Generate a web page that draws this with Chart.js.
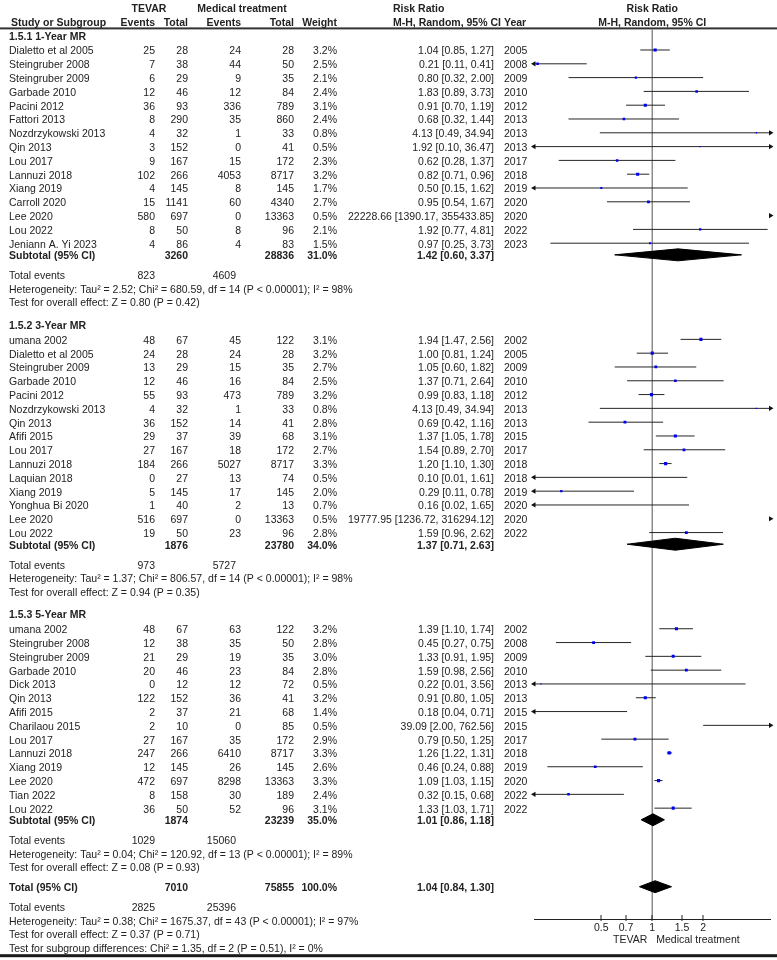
<!DOCTYPE html>
<html>
<head>
<meta charset="utf-8">
<title>Forest plot — TEVAR vs medical treatment</title>
<script src="https://cdn.jsdelivr.net/npm/chart.js@4.4.1/dist/chart.umd.min.js"></script>
<style>
html,body{margin:0;padding:0;background:#fff;}
#wrap{position:relative;width:777px;height:960px;}
</style>
</head>
<body>
<div id="wrap"><canvas id="forest" width="777" height="960"></canvas></div>
<script>
/* ── Data: 1-Year MR ── */
var studies1   = ['Dialetto et al 2005','Steingruber 2008','Steingruber 2009','Garbade 2010','Pacini 2012','Fattori 2013','Nozdrzykowski 2013','Qin 2013','Lou 2017','Lannuzi 2018','Xiang 2019','Carroll 2020','Lee 2020','Lou 2022','Jeniann A. Yi 2023'];
var tevarEv1   = [25,7,6,12,36,8,4,3,9,102,4,15,580,8,4];
var tevarN1    = [28,38,29,46,93,290,32,152,167,266,145,1141,697,50,86];
var medEv1     = [24,44,9,12,336,35,1,0,15,4053,8,60,0,8,4];
var medN1      = [28,50,35,84,789,860,33,41,172,8717,145,4340,13363,96,83];
var weight1    = [3.2,2.5,2.1,2.4,3.1,2.4,0.8,0.5,2.3,3.2,1.7,2.7,0.5,2.1,1.5];
var rr1        = [1.04,0.21,0.80,1.83,0.91,0.68,4.13,1.92,0.62,0.82,0.50,0.95,22228.66,1.92,0.97];
var lo1        = [0.85,0.11,0.32,0.89,0.70,0.32,0.49,0.10,0.28,0.71,0.15,0.54,1390.17,0.77,0.25];
var hi1        = [1.27,0.41,2.00,3.73,1.19,1.44,34.94,36.47,1.37,0.96,1.62,1.67,355433.85,4.81,3.73];
var year1      = [2005,2008,2009,2010,2012,2013,2013,2013,2017,2018,2019,2020,2020,2022,2023];

/* ── Data: 3-Year MR ── */
var studies2   = ['umana 2002','Dialetto et al 2005','Steingruber 2009','Garbade 2010','Pacini 2012','Nozdrzykowski 2013','Qin 2013','Afifi 2015','Lou 2017','Lannuzi 2018','Laquian 2018','Xiang 2019','Yonghua Bi 2020','Lee 2020','Lou 2022'];
var tevarEv2   = [48,24,13,12,55,4,36,29,27,184,0,5,1,516,19];
var tevarN2    = [67,28,29,46,93,32,152,37,167,266,27,145,40,697,50];
var medEv2     = [45,24,15,16,473,1,14,39,18,5027,13,17,2,0,23];
var medN2      = [122,28,35,84,789,33,41,68,172,8717,74,145,13,13363,96];
var weight2    = [3.1,3.2,2.7,2.5,3.2,0.8,2.8,3.1,2.7,3.3,0.5,2.0,0.7,0.5,2.8];
var rr2        = [1.94,1.00,1.05,1.37,0.99,4.13,0.69,1.37,1.54,1.20,0.10,0.29,0.16,19777.95,1.59];
var lo2        = [1.47,0.81,0.60,0.71,0.83,0.49,0.42,1.05,0.89,1.10,0.01,0.11,0.02,1236.72,0.96];
var hi2        = [2.56,1.24,1.82,2.64,1.18,34.94,1.16,1.78,2.70,1.30,1.61,0.78,1.65,316294.12,2.62];
var year2      = [2002,2005,2009,2010,2012,2013,2013,2015,2017,2018,2018,2019,2020,2020,2022];

/* ── Data: 5-Year MR ── */
var studies3   = ['umana 2002','Steingruber 2008','Steingruber 2009','Garbade 2010','Dick 2013','Qin 2013','Afifi 2015','Charilaou 2015','Lou 2017','Lannuzi 2018','Xiang 2019','Lee 2020','Tian 2022','Lou 2022'];
var tevarEv3   = [48,12,21,20,0,122,2,2,27,247,12,472,8,36];
var tevarN3    = [67,38,29,46,12,152,37,10,167,266,145,697,158,50];
var medEv3     = [63,35,19,23,12,36,21,0,35,6410,26,8298,30,52];
var medN3      = [122,50,35,84,72,41,68,85,172,8717,145,13363,189,96];
var weight3    = [3.2,2.8,3.0,2.8,0.5,3.2,1.4,0.5,2.9,3.3,2.6,3.3,2.4,3.1];
var rr3        = [1.39,0.45,1.33,1.59,0.22,0.91,0.18,39.09,0.79,1.26,0.46,1.09,0.32,1.33];
var lo3        = [1.10,0.27,0.91,0.98,0.01,0.80,0.04,2.00,0.50,1.22,0.24,1.03,0.15,1.03];
var hi3        = [1.74,0.75,1.95,2.56,3.56,1.05,0.71,762.56,1.25,1.31,0.88,1.15,0.68,1.71];
var year3      = [2002,2008,2009,2010,2013,2013,2015,2015,2017,2018,2019,2020,2022,2022];

/* ── Subgroup summaries ── */
var groupLabels = ['1.5.1 1-Year MR','1.5.2 3-Year MR','1.5.3 5-Year MR'];
var subTevarN   = [3260,1876,1874];
var subMedN     = [28836,23780,23239];
var subWeight   = [31.0,34.0,35.0];
var subRR       = [1.42,1.37,1.01];
var subLo       = [0.60,0.71,0.86];
var subHi       = [3.37,2.63,1.18];
var subTevarEv  = [823,973,1029];
var subMedEv    = [4609,5727,15060];
var subHet      = ['Heterogeneity: Tau\u00b2 = 2.52; Chi\u00b2 = 680.59, df = 14 (P < 0.00001); I\u00b2 = 98%',
                   'Heterogeneity: Tau\u00b2 = 1.37; Chi\u00b2 = 806.57, df = 14 (P < 0.00001); I\u00b2 = 98%',
                   'Heterogeneity: Tau\u00b2 = 0.04; Chi\u00b2 = 120.92, df = 13 (P < 0.00001); I\u00b2 = 89%'];
var subTest     = ['Test for overall effect: Z = 0.80 (P = 0.42)',
                   'Test for overall effect: Z = 0.94 (P = 0.35)',
                   'Test for overall effect: Z = 0.08 (P = 0.93)'];

/* ── Overall ── */
var totalN      = [7010,75855];
var totalWeight = 100.0;
var totalRR     = [1.04,0.84,1.30];
var totalEv     = [2825,25396];
var totalLines  = ['Heterogeneity: Tau\u00b2 = 0.38; Chi\u00b2 = 1675.37, df = 43 (P < 0.00001); I\u00b2 = 97%',
                   'Test for overall effect: Z = 0.37 (P = 0.71)',
                   'Test for subgroup differences: Chi\u00b2 = 1.35, df = 2 (P = 0.51), I\u00b2 = 0%'];

/* ── Axis ── */
var X_MIN = 0.2, X_MAX = 5;
var TICKS = [0.5,0.7,1,1.5,2];
var FAVOURS = ['TEVAR','Medical treatment'];

/* ── Look ── */
var FONT_FAMILY = '"Liberation Sans", Arial, sans-serif';
var FONT_SIZE = 10.5;
var TEXT = '#222';
var W = 777, H = 960;
var AXIS_H = 41;          // room under the plot for ticks + favours labels
var PLOT_BOTTOM = H - AXIS_H;
var MARK_DY = -1.5;       // marks sit a touch above the text centre

// column anchors
var COL = {name:9, tEv:155, tN:188, mEv:241, mN:294, wt:337, rr:494, year:504, rrHead:393, totMEv:236};

// vertical steps between table lines
var STEP = {study:13.86, firstStudy:14.7, subtotal:11.7, events:20, line:13.6, group:23, total:20};
var HEAD = {line1:5.5, line2:19, rule:24.5, first:33};

var groups = [
  {names:studies1, tEv:tevarEv1, tN:tevarN1, mEv:medEv1, mN:medN1, wt:weight1, rr:rr1, lo:lo1, hi:hi1, yr:year1},
  {names:studies2, tEv:tevarEv2, tN:tevarN2, mEv:medEv2, mN:medN2, wt:weight2, rr:rr2, lo:lo2, hi:hi2, yr:year2},
  {names:studies3, tEv:tevarEv3, tN:tevarN3, mEv:medEv3, mN:medN3, wt:weight3, rr:rr3, lo:lo3, hi:hi3, yr:year3}
];

function ci(r,l,h){ return r.toFixed(2)+' ['+l.toFixed(2)+', '+h.toFixed(2)+']'; }

/* ── Build table text + row positions ── */
var items = [];
var studyRows = [];   // {y, rr, lo, hi, wt}
var diamonds = [];    // {y, rr, lo, hi}
function put(s, x, y, align, bold){ items.push({s:String(s), x:x, y:y, align:align||'left', bold:!!bold}); }

put('TEVAR', 149, HEAD.line1, 'center', true);
put('Medical treatment', 242, HEAD.line1, 'center', true);
put('Risk Ratio', COL.rrHead, HEAD.line1, 'left', true);
put('Study or Subgroup', 11, HEAD.line2, 'left', true);
put('Events', COL.tEv, HEAD.line2, 'right', true);
put('Total', COL.tN, HEAD.line2, 'right', true);
put('Events', COL.mEv, HEAD.line2, 'right', true);
put('Total', COL.mN, HEAD.line2, 'right', true);
put('Weight', COL.wt, HEAD.line2, 'right', true);
put('M-H, Random, 95% CI', COL.rrHead, HEAD.line2, 'left', true);
put('Year', COL.year, HEAD.line2, 'left', true);

var cur = HEAD.first;
groups.forEach(function(g, gi){
  if(gi > 0) cur += STEP.group;
  put(groupLabels[gi], COL.name, cur, 'left', true);
  cur += STEP.firstStudy - STEP.study;
  g.names.forEach(function(n, i){
    cur += STEP.study;
    put(n, COL.name, cur);
    put(g.tEv[i], COL.tEv, cur, 'right');
    put(g.tN[i], COL.tN, cur, 'right');
    put(g.mEv[i], COL.mEv, cur, 'right');
    put(g.mN[i], COL.mN, cur, 'right');
    put(g.wt[i].toFixed(1)+'%', COL.wt, cur, 'right');
    put(ci(g.rr[i], g.lo[i], g.hi[i]), COL.rr, cur, 'right');
    put(g.yr[i], COL.year, cur, 'left');
    studyRows.push({y:cur + MARK_DY, rr:g.rr[i], lo:g.lo[i], hi:g.hi[i], wt:g.wt[i]});
  });
  cur += STEP.subtotal;
  put('Subtotal (95% CI)', COL.name, cur, 'left', true);
  put(subTevarN[gi], COL.tN, cur, 'right', true);
  put(subMedN[gi], COL.mN, cur, 'right', true);
  put(subWeight[gi].toFixed(1)+'%', COL.wt, cur, 'right', true);
  put(ci(subRR[gi], subLo[gi], subHi[gi]), COL.rr, cur, 'right', true);
  diamonds.push({y:cur + MARK_DY, rr:subRR[gi], lo:subLo[gi], hi:subHi[gi]});
  cur += STEP.events;
  put('Total events', COL.name, cur);
  put(subTevarEv[gi], COL.tEv, cur, 'right');
  put(subMedEv[gi], COL.totMEv, cur, 'right');
  cur += STEP.line; put(subHet[gi], COL.name, cur);
  cur += STEP.line; put(subTest[gi], COL.name, cur);
});

cur += STEP.total;
put('Total (95% CI)', COL.name, cur, 'left', true);
put(totalN[0], COL.tN, cur, 'right', true);
put(totalN[1], COL.mN, cur, 'right', true);
put(totalWeight.toFixed(1)+'%', COL.wt, cur, 'right', true);
put(ci(totalRR[0], totalRR[1], totalRR[2]), COL.rr, cur, 'right', true);
diamonds.push({y:cur + MARK_DY, rr:totalRR[0], lo:totalRR[1], hi:totalRR[2]});
cur += STEP.events;
put('Total events', COL.name, cur);
put(totalEv[0], COL.tEv, cur, 'right');
put(totalEv[1], COL.totMEv, cur, 'right');
totalLines.forEach(function(s){ cur += STEP.line; put(s, COL.name, cur); });
var BOTTOM_RULE = cur + 7;

/* ── Datasets ── */
var datasets = [];

// line of no effect
datasets.push({
  type:'line', data:[{x:1, y:HEAD.rule + 1}, {x:1, y:PLOT_BOTTOM}],
  borderColor:'#8c8c8c', borderWidth:1.5, pointRadius:0, order:10
});

// confidence intervals (clipped by the chart area)
studyRows.forEach(function(r){
  datasets.push({
    type:'line', data:[{x:r.lo, y:r.y}, {x:r.hi, y:r.y}],
    borderColor:'#262626', borderWidth:1, pointRadius:0, order:2
  });
});

// arrows where the interval leaves the axis range
var leftArrows = [], rightArrows = [];
studyRows.forEach(function(r){
  if(r.lo < X_MIN) leftArrows.push({x:X_MIN, y:r.y});
  if(r.hi > X_MAX) rightArrows.push({x:X_MAX, y:r.y});
});
[[leftArrows,-90],[rightArrows,90]].forEach(function(a){
  datasets.push({
    type:'line', data:a[0], showLine:false, clip:false,
    pointStyle:'triangle', pointRotation:a[1], pointRadius:3,
    pointBackgroundColor:'#111', pointBorderColor:'#111', pointBorderWidth:0, order:1
  });
});

// study weights
datasets.push({
  type:'line', showLine:false,
  data:studyRows.map(function(r){ return {x:r.rr, y:r.y}; }),
  pointStyle:'rect',
  pointRadius:studyRows.map(function(r){ return 0.6 + r.wt*0.5; }),
  pointBackgroundColor:'#0000ee', pointBorderWidth:0, order:0
});

// pooled diamonds
var DIAMOND_H = 6;
diamonds.forEach(function(d){
  datasets.push({
    type:'line', fill:'shape', tension:0,
    data:[{x:d.lo, y:d.y}, {x:d.rr, y:d.y - DIAMOND_H}, {x:d.hi, y:d.y}, {x:d.rr, y:d.y + DIAMOND_H}, {x:d.lo, y:d.y}],
    borderColor:'#000', backgroundColor:'#000', borderWidth:1, pointRadius:0, order:0
  });
});

/* ── Table / axis decorations ── */
var tablePlugin = {
  id:'forestTable',
  afterDraw:function(chart){
    var ctx = chart.ctx, ys = chart.scales.y, xs = chart.scales.x, area = chart.chartArea;
    var plotMid = (area.left + area.right)/2;
    ctx.save();
    ctx.fillStyle = '#333';
    ctx.fillRect(0, ys.getPixelForValue(HEAD.rule) - 1, W, 2);
    ctx.fillStyle = '#1a1a1a';
    ctx.fillRect(0, ys.getPixelForValue(BOTTOM_RULE) - 1.5, W, 3);

    ctx.fillStyle = TEXT;
    ctx.textBaseline = 'middle';
    items.forEach(function(t){
      ctx.font = (t.bold ? 'bold ' : '') + FONT_SIZE + 'px ' + FONT_FAMILY;
      ctx.textAlign = t.align;
      ctx.fillText(t.s, t.x, ys.getPixelForValue(t.y));
    });
    ctx.font = 'bold ' + FONT_SIZE + 'px ' + FONT_FAMILY;
    ctx.textAlign = 'center';
    ctx.fillText('Risk Ratio', plotMid, ys.getPixelForValue(HEAD.line1));
    ctx.fillText('M-H, Random, 95% CI', plotMid, ys.getPixelForValue(HEAD.line2));

    // tick marks crossing the axis line
    ctx.fillStyle = '#222';
    TICKS.forEach(function(v){
      var px = Math.round(xs.getPixelForValue(v));
      ctx.fillRect(px - 0.5, area.bottom - 4, 1, 6);
    });

    // favours labels
    var one = xs.getPixelForValue(1);
    ctx.font = FONT_SIZE + 'px ' + FONT_FAMILY;
    ctx.fillStyle = TEXT;
    ctx.textAlign = 'right';
    ctx.fillText(FAVOURS[0], one - 5, area.bottom + 21);
    ctx.textAlign = 'left';
    ctx.fillText(FAVOURS[1], one + 4, area.bottom + 21);
    ctx.restore();
  }
};

new Chart(document.getElementById('forest'), {
  type:'line',
  data:{datasets:datasets},
  options:{
    responsive:false, animation:false, events:[], devicePixelRatio:1,
    layout:{padding:{left:534, right:6.5, top:0, bottom:0}},
    plugins:{legend:{display:false}, tooltip:{enabled:false}},
    scales:{
      x:{
        type:'logarithmic', min:X_MIN, max:X_MAX, position:'bottom',
        grid:{display:false, drawTicks:false},
        border:{display:true, color:'#222', width:1},
        ticks:{autoSkip:false, maxRotation:0, padding:3, color:TEXT,
               font:{family:FONT_FAMILY, size:FONT_SIZE},
               callback:function(v){ return String(v); }},
        afterBuildTicks:function(s){ s.ticks = TICKS.map(function(v){ return {value:v}; }); },
        afterFit:function(s){ s.height = AXIS_H; }
      },
      y:{type:'linear', min:0, max:PLOT_BOTTOM, reverse:true, display:false}
    }
  },
  plugins:[tablePlugin]
});
</script>
</body>
</html>
